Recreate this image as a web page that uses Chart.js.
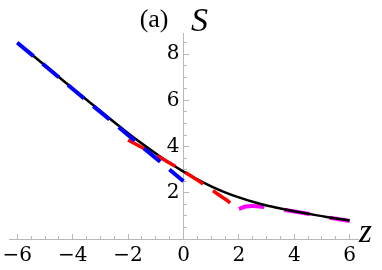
<!DOCTYPE html>
<html>
<head>
<meta charset="utf-8">
<script src="https://cdn.jsdelivr.net/npm/chart.js@4.4.0/dist/chart.umd.min.js"></script>
<style>
  html, body { margin: 0; padding: 0; background: #fff; }
  canvas { display: block; }
</style>
</head>
<body>
<canvas id="chart" width="382" height="270"></canvas>
<script>
// ===== values =====
const zBlack = [-6, -5, -4, -3, -2, -1.5, -1, -0.5, 0, 0.5, 1, 1.5, 2, 2.5, 3, 3.5, 4, 4.5, 5, 5.5, 6];
const sBlack = [8.51, 7.51, 6.52, 5.54, 4.58, 4.13, 3.70, 3.29, 2.92, 2.58, 2.28, 2.02, 1.80, 1.61, 1.45, 1.32, 1.20, 1.09, 0.99, 0.89, 0.80];

const zBlue = [-6, 0];
const sBlue = [8.5, 2.5];

const zRed = [-2, -1.5, -1, -0.5, 0, 0.5, 1, 1.5, 1.8];
const sRed = [4.29, 3.96, 3.64, 3.29, 2.93, 2.55, 2.14, 1.73, 1.46];

const zMagenta = [2, 2.25, 2.5, 2.75, 3, 3.5, 4, 4.5, 5, 5.5, 6];
const sMagenta = [1.30, 1.41, 1.43, 1.41, 1.37, 1.29, 1.19, 1.09, 0.98, 0.88, 0.78];

const zTicks = [-6, -4, -2, 0, 2, 4, 6];
const sTicks = [2, 4, 6, 8];
const zMinor = [-6, -5.5, -5, -4.5, -4, -3.5, -3, -2.5, -2, -1.5, -1, -0.5, 0.5, 1, 1.5, 2, 2.5, 3, 3.5, 4, 4.5, 5, 5.5, 6];
const sMinor = [0.5, 1, 1.5, 2, 2.5, 3, 3.5, 4, 4.5, 5, 5.5, 6, 6.5, 7, 7.5, 8, 8.5];

const AXIS_GRAY = '#b8b8b8';

const pts = (xs, ys) => xs.map((v, i) => ({ x: v, y: ys[i] }));
const setTicks = arr => scale => { scale.ticks = arr.map(v => ({ value: v })); };
const minus = v => (v < 0 ? '\u2212' + Math.abs(v) : String(v));
// keep the tick labels from pushing the plot area in
const noPad = scale => { scale.paddingLeft = 0; scale.paddingRight = 0; scale.paddingTop = 0; scale.paddingBottom = 0; };

// panel label and axis names
const axisText = {
    id: 'axisText',
    afterDraw(chart) {
        const { ctx, scales: { x, y } } = chart;
        const x0 = x.getPixelForValue(0);
        const y0 = y.getPixelForValue(0);
        ctx.save();
        ctx.fillStyle = '#000';
        ctx.textBaseline = 'alphabetic';
        ctx.font = '26px "Liberation Serif"';
        ctx.textAlign = 'right';
        ctx.fillText('(a)', x0 - 15, 27);
        ctx.textAlign = 'left';
        ctx.font = 'italic 34px "Liberation Serif"';
        ctx.fillText('S', x0 + 7.5, 31);
        ctx.font = 'italic 33px "Liberation Serif"';
        ctx.fillText('z', x.right + 1, y0 + 3);
        ctx.restore();
    }
};

new Chart(document.getElementById('chart'), {
    type: 'line',
    data: {
        datasets: [
            { data: pts(zBlue, sBlue), borderColor: '#0000ff', borderWidth: 4, borderDash: [21, 12] },
            { data: pts(zRed, sRed), borderColor: '#ff0000', borderWidth: 3.5, borderDash: [21, 12], cubicInterpolationMode: 'monotone' },
            { data: pts(zBlack, sBlack), borderColor: '#000000', borderWidth: 2.5, cubicInterpolationMode: 'monotone' },
            { data: pts(zMagenta, sMagenta), borderColor: '#ff00ff', borderWidth: 4, borderDash: [26, 20], cubicInterpolationMode: 'monotone' }
        ]
    },
    options: {
        responsive: false,
        animation: false,
        devicePixelRatio: 1,
        layout: { padding: { left: 9, right: 24, top: 33, bottom: 31 } },
        elements: { point: { radius: 0 }, line: { borderCapStyle: 'butt', fill: false } },
        plugins: { legend: { display: false }, tooltip: { enabled: false } },
        scales: {
            x: {
                type: 'linear', axis: 'x', min: -6.3, max: 6.3,
                position: { y: 0 },
                afterBuildTicks: setTicks(zTicks),
                afterFit: noPad,
                grid: { drawOnChartArea: false, tickLength: -6, tickColor: AXIS_GRAY, color: AXIS_GRAY },
                border: { color: AXIS_GRAY, width: 1 },
                ticks: { padding: 11, color: '#000', autoSkip: false, maxRotation: 0,
                         font: { family: '"DejaVu Serif"', size: 20 }, callback: minus }
            },
            y: {
                type: 'linear', axis: 'y', min: 0, max: 8.92,
                position: { x: 0 },
                afterBuildTicks: setTicks(sTicks),
                afterFit: noPad,
                grid: { drawOnChartArea: false, tickLength: -6, tickColor: AXIS_GRAY, color: AXIS_GRAY },
                border: { color: AXIS_GRAY, width: 1 },
                ticks: { padding: 10, color: '#000', autoSkip: false,
                         font: { family: '"DejaVu Serif"', size: 20 }, callback: v => v + '\u2009' }
            },
            x2: {
                type: 'linear', axis: 'x', min: -6.3, max: 6.3,
                position: { y: 0 },
                afterBuildTicks: setTicks(zMinor),
                afterFit: noPad,
                grid: { drawOnChartArea: false, tickLength: -3, tickColor: AXIS_GRAY },
                border: { display: false },
                ticks: { display: false }
            },
            y2: {
                type: 'linear', axis: 'y', min: 0, max: 8.92,
                position: { x: 0 },
                afterBuildTicks: setTicks(sMinor),
                afterFit: noPad,
                grid: { drawOnChartArea: false, tickLength: -3, tickColor: AXIS_GRAY },
                border: { display: false },
                ticks: { display: false }
            }
        }
    },
    plugins: [axisText]
});
</script>
</body>
</html>
